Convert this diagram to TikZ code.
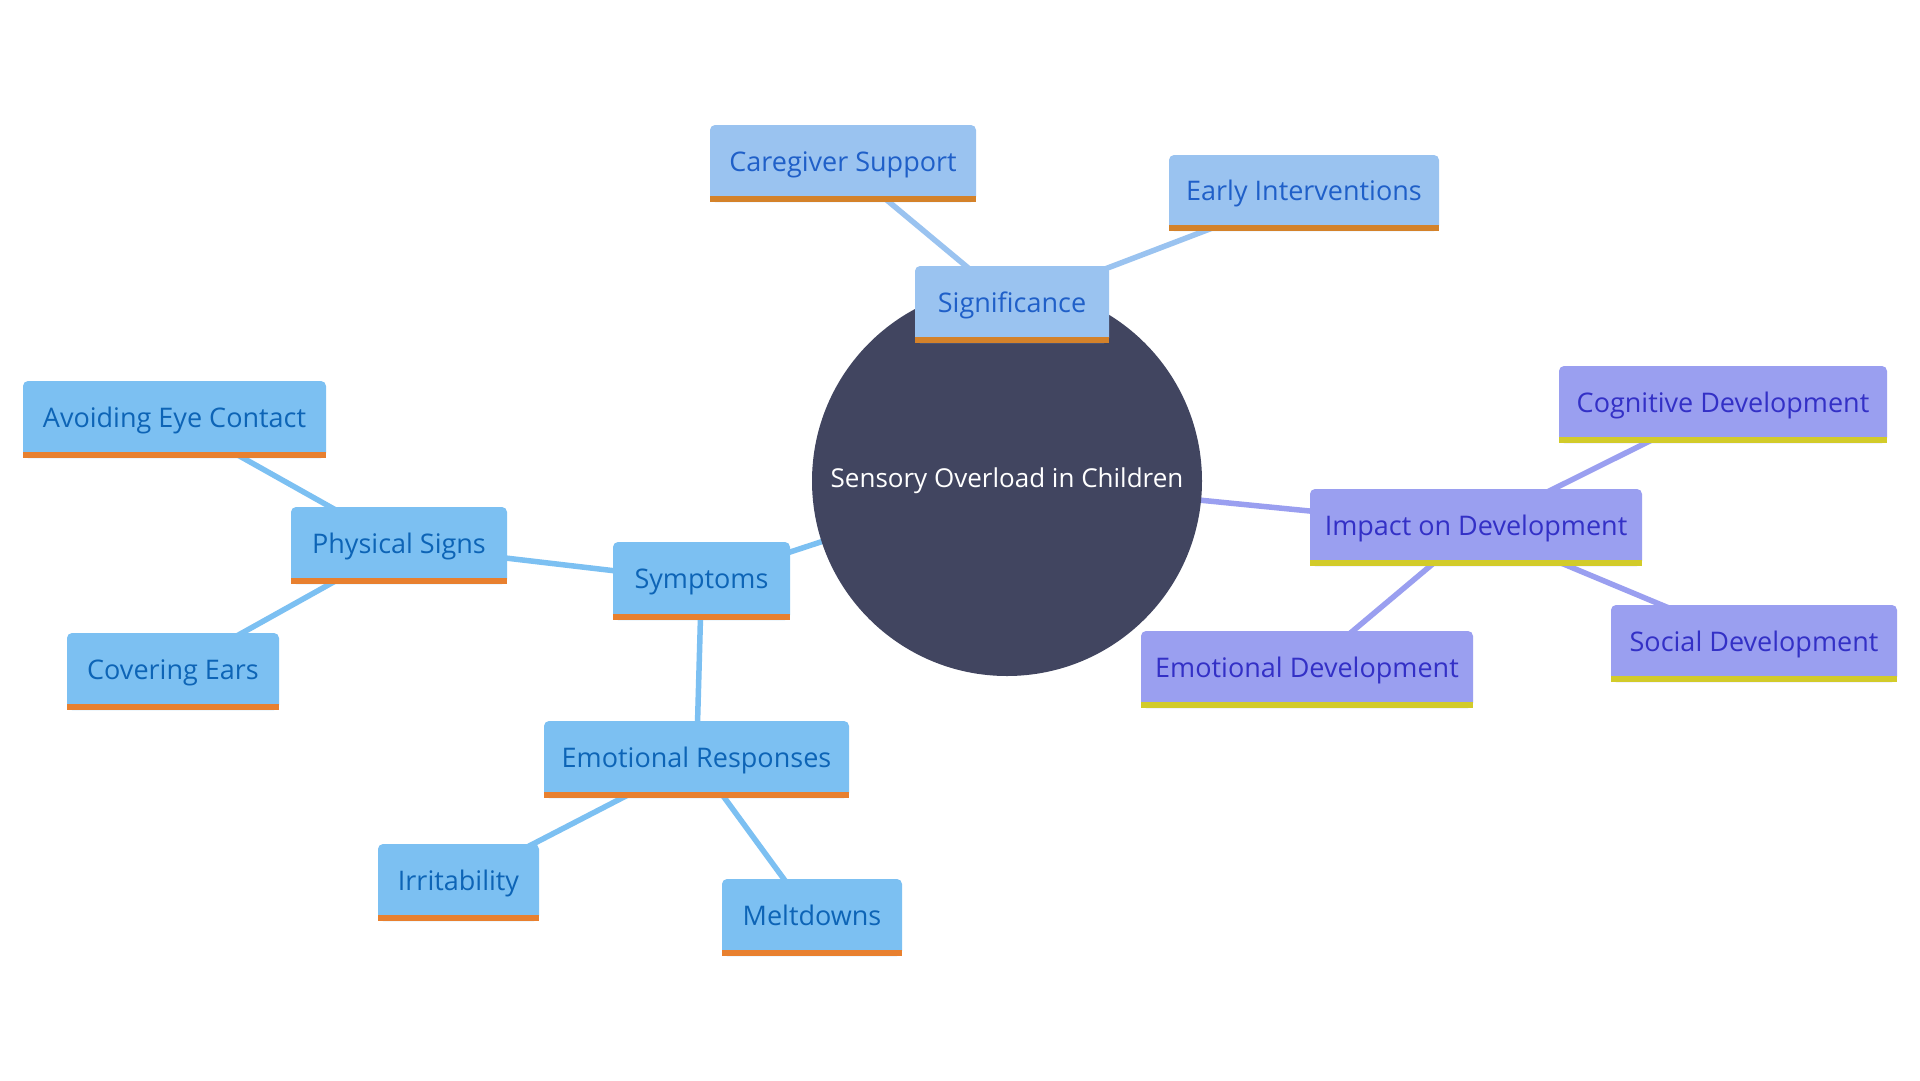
\documentclass[tikz,border=0pt]{standalone}
\usepackage{fontspec}
\setmainfont{Open Sans}
\usetikzlibrary{backgrounds}
\definecolor{sigfill}{HTML}{9AC3F0}
\definecolor{sigbar}{HTML}{D4822A}
\definecolor{sigtext}{HTML}{1F5FC8}
\definecolor{symfill}{HTML}{7CC0F2}
\definecolor{symbar}{HTML}{E8802F}
\definecolor{symtext}{HTML}{0D64B6}
\definecolor{impfill}{HTML}{9A9FF0}
\definecolor{impbar}{HTML}{D2CB2A}
\definecolor{imptext}{HTML}{3330C6}
\definecolor{circ}{HTML}{414560}
\tikzset{
  boxbase/.style={rectangle, rounded corners=5pt, inner sep=0pt},
  boxtext/.style={inner sep=0pt, anchor=base, font=\fontsize{27}{32}\selectfont},
  edge/.style={line width=5.5pt},
}
\newcommand\mmbox[7]{%
  \node[boxbase, fill=#6fill, minimum width={#4-#2}, minimum height={#5-#3}] (#1) at ({(#2+#4)/2},{(#3+#5)/2}) {};
  \fill[#6bar] ([yshift=6pt]#1.south west) rectangle (#1.south east);
  \node[boxtext, text=#6text] (#1-t) at ([yshift=-7.5pt]#1.center) {#7};
}
\begin{document}
\begin{tikzpicture}[x=1pt,y=-1pt]
\useasboundingbox (0,0) rectangle (1920,1080);
\node[circle, fill=circ, minimum size=390pt, inner sep=0pt] (c) at (1007,481) {};
\node[inner sep=0pt, anchor=base, text=white, font=\fontsize{26}{30}\selectfont] (c-t) at ([yshift=-6pt]c.center) {Sensory Overload in Children};
% Significance branch
\mmbox{sig}{915}{266}{1109}{343}{sig}{Significance}
\mmbox{care}{710}{125}{976}{202}{sig}{Caregiver Support}
\mmbox{early}{1169}{155}{1439}{231}{sig}{Early Interventions}
% Symptoms branch
\mmbox{sym}{613}{542}{790}{620}{sym}{Symptoms}
\mmbox{phys}{291}{507}{507}{584}{sym}{Physical Signs}
\mmbox{avoid}{23}{381}{326}{458}{sym}{Avoiding Eye Contact}
\mmbox{cover}{67}{633}{279}{710}{sym}{Covering Ears}
\mmbox{emo}{544}{721}{849}{798}{sym}{Emotional Responses}
\mmbox{irr}{378}{844}{539}{921}{sym}{Irritability}
\mmbox{melt}{722}{879}{902}{956}{sym}{Meltdowns}
% Impact branch
\mmbox{imp}{1310}{489}{1642}{566}{imp}{Impact on Development}
\mmbox{cog}{1559}{366}{1887}{443}{imp}{Cognitive Development}
\mmbox{emodev}{1141}{631}{1473}{708}{imp}{Emotional Development}
\mmbox{soc}{1611}{605}{1897}{682}{imp}{Social Development}
\begin{scope}[on background layer]
\fill[white] (0,0) rectangle (1920,1080);
\draw[edge, sigfill] (c.center) -- (sig.center);
\draw[edge, sigfill] (sig.center) -- (care.center);
\draw[edge, sigfill] (sig.center) -- (early.center);
\draw[edge, symfill] (c.center) -- (sym.center);
\draw[edge, symfill] (sym.center) -- (phys.center);
\draw[edge, symfill] (phys.center) -- (avoid.center);
\draw[edge, symfill] (phys.center) -- (cover.center);
\draw[edge, symfill] (sym.center) -- (emo.center);
\draw[edge, symfill] (emo.center) -- (irr.center);
\draw[edge, symfill] (emo.center) -- (melt.center);
\draw[edge, impfill] (c.center) -- (imp.center);
\draw[edge, impfill] (imp.center) -- (cog.center);
\draw[edge, impfill] (imp.center) -- (emodev.center);
\draw[edge, impfill] (imp.center) -- (soc.center);
\end{scope}
\end{tikzpicture}
\end{document}
